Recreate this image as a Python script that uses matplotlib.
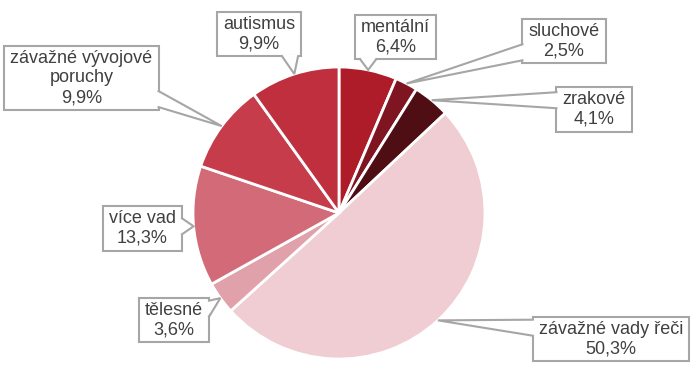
import numpy as np
import matplotlib.pyplot as plt
from matplotlib.patches import Rectangle, Polygon

plt.rcParams['font.family'] = ['Liberation Sans', 'DejaVu Sans']

# data (clockwise from 12 o'clock)
labels = ["mentální", "sluchové", "zrakové", "závažné vady řeči",
          "tělesné", "více vad", "závažné vývojové\nporuchy", "autismus"]
values = [6.4, 2.5, 4.1, 50.3, 3.6, 13.3, 9.9, 9.9]
colors = ["#AE1C2A", "#7E1520", "#4E0E14", "#F0CDD2",
          "#E0A1AA", "#D26A77", "#C73C4A", "#BF2F3E"]

# label box centres, pixels from top-left
label_pos = [(395.5, 37), (564, 41), (594, 109.5), (611, 339),
             (174, 320), (142.5, 228.5), (81.5, 78), (259, 34)]

W, H = 696, 375
fig = plt.figure(figsize=(W / 100, H / 100), dpi=100)
ax = fig.add_axes([0, 0, 1, 1])

cx, cy, r = 339, H - 213, 146
wedges, _ = ax.pie(values, colors=colors, startangle=90, counterclock=False,
                   center=(cx, cy), radius=r, frame=True,
                   wedgeprops=dict(edgecolor="white", linewidth=2))
ax.set_xlim(0, W)
ax.set_ylim(0, H)
ax.set_aspect("equal")
ax.axis("off")

edge_col = "#A6A6A6"
texts = []
for lab, v, (px, py) in zip(labels, values, label_pos):
    s = f"{lab}\n{str(v).replace('.', ',')}%"
    t = ax.text(px, H - py, s, ha="center", va="center", ma="center",
                fontsize=13, color="#404040", zorder=6, linespacing=1.2)
    texts.append(t)

fig.canvas.draw()
renderer = fig.canvas.get_renderer()
inv = ax.transData.inverted()
padx, pady = 6, 4
half = 8

for t, w in zip(texts, wedges):
    bb = t.get_window_extent(renderer).transformed(inv)
    x0, x1 = bb.x0 - padx, bb.x1 + padx
    y0, y1 = bb.y0 - pady, bb.y1 + pady
    ax.add_patch(Rectangle((x0, y0), x1 - x0, y1 - y0, fc="white",
                           ec=edge_col, lw=1.5, zorder=3))
    ang = np.deg2rad((w.theta1 + w.theta2) / 2)
    tx, ty = cx + r * np.cos(ang), cy + r * np.sin(ang)
    dx = max(x0 - tx, tx - x1, 0)
    dy = max(y0 - ty, ty - y1, 0)
    if dx > dy:
        ex = x0 if tx < x0 else x1
        inward = 1.5 if tx < x0 else -1.5
        yc = np.clip(ty, y0 + half + 3, y1 - half - 3)
        b1, b2 = (ex, yc - half), (ex, yc + half)
        c1, c2 = (ex + inward, yc - half), (ex + inward, yc + half)
    else:
        ey = y0 if ty < y0 else y1
        inward = 1.5 if ty < y0 else -1.5
        xc = np.clip(tx, x0 + half + 3, x1 - half - 3)
        b1, b2 = (xc - half, ey), (xc + half, ey)
        c1, c2 = (xc - half, ey + inward), (xc + half, ey + inward)
    ax.add_patch(Polygon([c1, (tx, ty), c2], closed=True, fc="white",
                         ec="none", zorder=4))
    ax.plot([b1[0], tx, b2[0]], [b1[1], ty, b2[1]], color=edge_col,
            lw=1.5, zorder=5, solid_joinstyle="miter")

fig.savefig("out.png", dpi=100)
